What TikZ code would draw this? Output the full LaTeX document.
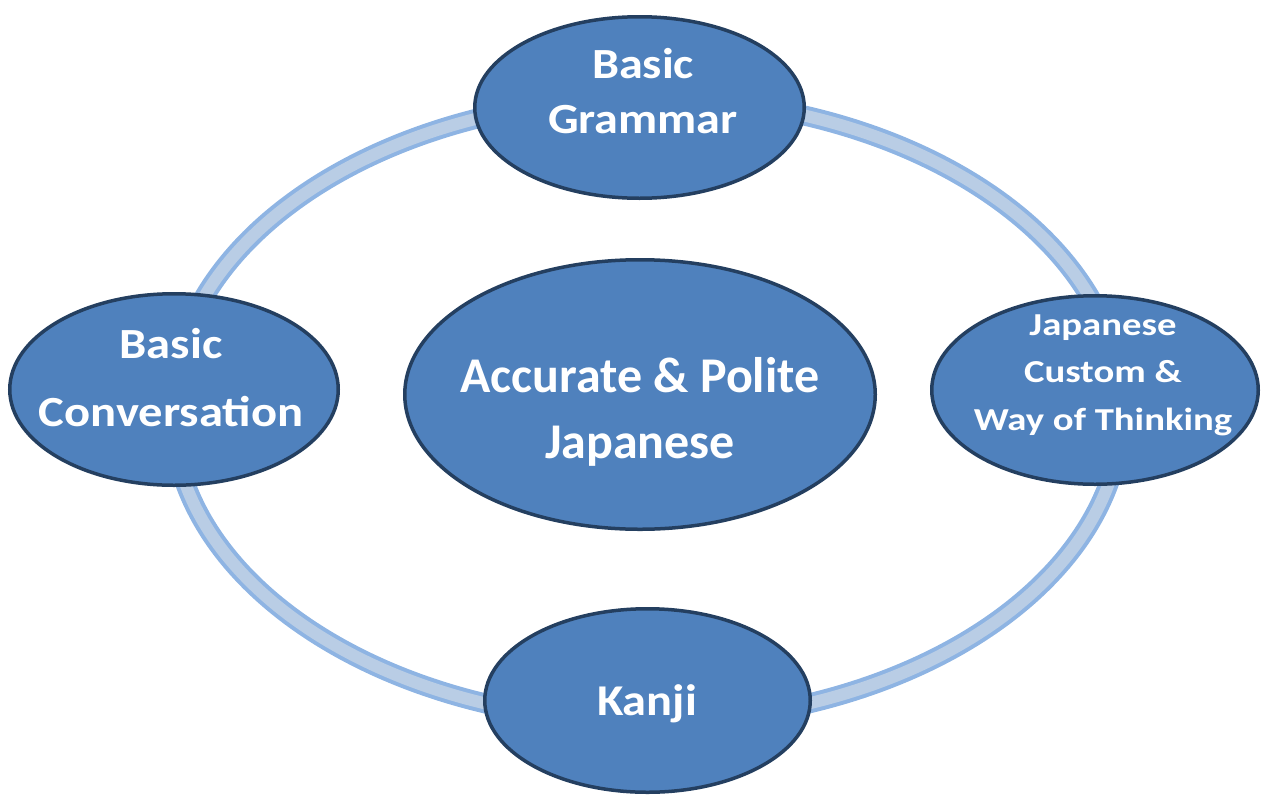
\documentclass[tikz,border=0pt]{standalone}
\usepackage{fontspec}
\setmainfont{Carlito}
\usetikzlibrary{shapes.geometric}
\definecolor{FillClr}{HTML}{4F81BD}
\definecolor{EdgeClr}{HTML}{243F60}
\definecolor{RingClr}{HTML}{8EB4E3}
\definecolor{RingInClr}{HTML}{B9CDE5}

\begin{document}
\begin{tikzpicture}[x=1pt,y=-1pt,
  topic/.style={ellipse,draw=EdgeClr,fill=FillClr,line width=3.5pt,inner sep=0pt},
  caption/.style={text=white,align=center,anchor=base,inner sep=0pt,transform shape}]
\useasboundingbox (0,0) rectangle (1265,798);

% Ring behind the topics.
\draw[RingClr,line width=20pt] (647,410) ellipse [x radius=475,y radius=312];
\draw[RingInClr,line width=12pt] (647,410) ellipse [x radius=475,y radius=312];

% Topics.
\node[topic,minimum width=329.5pt,minimum height=181.5pt] (grammar) at (639.5,107.5) {};
\node[topic,minimum width=328.5pt,minimum height=191.5pt] (conv) at (174,389.5) {};
\node[topic,minimum width=470.5pt,minimum height=269.5pt] (core) at (640,394.5) {};
\node[topic,minimum width=326.5pt,minimum height=188.5pt] (custom) at (1095,390) {};
\node[topic,minimum width=325.5pt,minimum height=183.5pt] (kanji) at (647.5,700.5) {};

% Labels (base = last line).
\node[caption,xscale=1.12,font=\bfseries\fontsize{43}{55}\selectfont] (grammar-txt) at (643,133) {Basic\\Grammar};
\node[caption,xscale=1.13,font=\bfseries\fontsize{43}{68}\selectfont] (conv-txt) at (171,426) {Basic\\Conversation};
\node[caption,font=\bfseries\fontsize{50}{66}\selectfont] (core-txt) at (640,458) {Accurate \& Polite\\Japanese};
\node[caption,xscale=1.21,font=\bfseries\fontsize{32}{47.5}\selectfont] (custom-txt) at (1103,430) {Japanese\\Custom \&\\Way of Thinking};
\node[caption,xscale=1.1,font=\bfseries\fontsize{44}{54}\selectfont] (kanji-txt) at (647,715) {Kanji};

\end{tikzpicture}
\end{document}
